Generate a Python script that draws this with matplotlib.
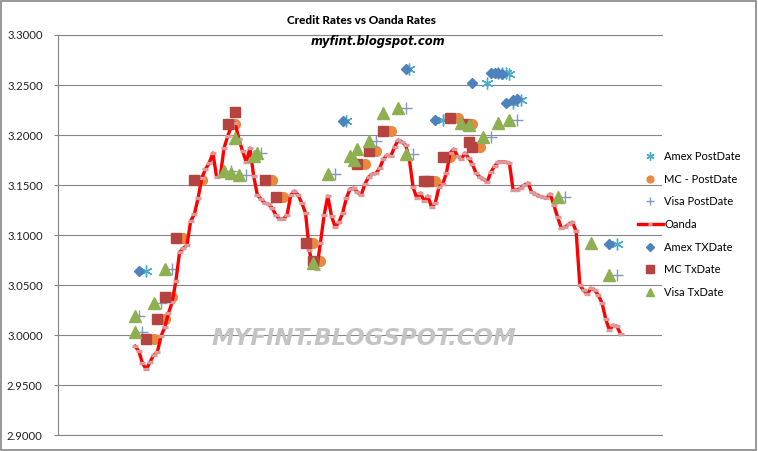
import matplotlib

matplotlib.use("Agg")
import matplotlib.pyplot as plt
from matplotlib.patches import Rectangle

# Oanda daily rate (day index from first date on chart)
oanda_day = list(range(132))
oanda_rate = [
    2.989, 2.984, 2.972, 2.966, 2.973, 2.980, 2.983, 2.999, 3.008, 3.022,
    3.033, 3.054, 3.083, 3.087, 3.090, 3.114, 3.121, 3.137, 3.157, 3.166,
    3.172, 3.182, 3.158, 3.159, 3.187, 3.199, 3.209, 3.212, 3.196, 3.184,
    3.173, 3.187, 3.159, 3.140, 3.136, 3.132, 3.131, 3.127, 3.120, 3.116,
    3.116, 3.120, 3.140, 3.144, 3.140, 3.132, 3.122, 3.085, 3.068, 3.066,
    3.092, 3.120, 3.139, 3.119, 3.108, 3.113, 3.122, 3.137, 3.146, 3.147,
    3.143, 3.140, 3.151, 3.158, 3.161, 3.162, 3.167, 3.176, 3.180, 3.179,
    3.188, 3.195, 3.193, 3.190, 3.176, 3.148, 3.137, 3.142, 3.134, 3.139,
    3.128, 3.132, 3.148, 3.151, 3.162, 3.182, 3.186, 3.179, 3.176, 3.182,
    3.177, 3.171, 3.162, 3.158, 3.156, 3.153, 3.163, 3.169, 3.173, 3.173,
    3.173, 3.172, 3.145, 3.145, 3.147, 3.150, 3.152, 3.143, 3.141, 3.139,
    3.138, 3.137, 3.141, 3.130, 3.118, 3.107, 3.108, 3.111, 3.113, 3.104,
    3.050, 3.045, 3.041, 3.047, 3.045, 3.040, 3.032, 3.016, 3.005, 3.010,
    3.009, 3.001,
]

amex_tx_day = [1, 56, 73, 81, 91, 96, 97, 98, 99, 100, 102, 103, 128]
amex_tx_rate = [3.064, 3.214, 3.266, 3.215, 3.252, 3.262, 3.262, 3.262, 3.261,
                3.232, 3.235, 3.236, 3.091]
amex_post_day = [3, 57, 74, 83, 95, 98, 99, 100, 101, 102, 104, 130]
amex_post_rate = [3.064, 3.214, 3.266, 3.215, 3.252, 3.262, 3.262, 3.262, 3.261,
                  3.232, 3.235, 3.091]

mc_tx_day = [3, 6, 8, 11, 16, 25, 27, 35, 38, 46, 48, 60, 63, 67, 78, 79, 83,
             85, 89, 90, 91]
mc_tx_rate = [2.996, 3.016, 3.038, 3.097, 3.155, 3.211, 3.223, 3.155, 3.138,
              3.092, 3.074, 3.171, 3.184, 3.204, 3.154, 3.154, 3.178, 3.217,
              3.211, 3.193, 3.188]
mc_post_day = [5, 8, 10, 13, 18, 27, 37, 40, 48, 50, 62, 65, 69, 81, 85, 87,
               91, 93]
mc_post_rate = [2.996, 3.016, 3.038, 3.097, 3.155, 3.211, 3.155, 3.138, 3.092,
                3.074, 3.171, 3.184, 3.204, 3.154, 3.178, 3.217, 3.211, 3.188]

visa_tx_day = [0, 0, 5, 8, 24, 26, 28, 27, 32, 33, 48, 52, 58, 59, 60, 63, 67,
               71, 73, 88, 90, 94, 98, 101, 114, 123, 128]
visa_tx_rate = [3.019, 3.003, 3.032, 3.066, 3.164, 3.162, 3.160, 3.197, 3.179,
                3.182, 3.072, 3.161, 3.179, 3.175, 3.186, 3.194, 3.222, 3.227,
                3.181, 3.212, 3.210, 3.198, 3.212, 3.215, 3.138, 3.092, 3.060]
visa_post_day = [1, 2, 7, 10, 26, 30, 34, 54, 65, 73, 75, 96, 103, 116, 130]
visa_post_rate = [3.019, 3.003, 3.032, 3.066, 3.164, 3.160, 3.182, 3.161, 3.194,
                  3.227, 3.181, 3.198, 3.215, 3.138, 3.060]

y_ticks = [2.90, 2.95, 3.00, 3.05, 3.10, 3.15, 3.20, 3.25, 3.30]

GRID = "#868686"
C_AMEX = "#4F81BD"
C_AMEX_POST = "#4BACC6"
C_MC = "#B5433F"
C_MC_POST = "#E8893E"
C_VISA = "#8FB050"
C_VISA_POST = "#8497C4"
C_OANDA = "#FF0000"
C_OANDA_MK = "#D9989A"

plt.rcParams["font.family"] = ["Lato", "DejaVu Sans"]

fig = plt.figure(figsize=(7.58, 4.51), dpi=100)
ax = fig.add_axes([0.0765, 0.0348, 0.7965, 0.8876])

asterisk = (6, 2, 0)
ax.plot(amex_post_day, amex_post_rate, ls="none", marker=asterisk, ms=8.5,
        mec=C_AMEX_POST, mew=1.0, zorder=3, label="Amex PostDate")
ax.plot(mc_post_day, mc_post_rate, ls="none", marker="o", ms=7,
        mfc=C_MC_POST, mec=C_MC_POST, zorder=3, label="MC - PostDate")
ax.plot(visa_post_day, visa_post_rate, ls="none", marker="+", ms=8.5,
        mec=C_VISA_POST, mew=1.0, zorder=3, label="Visa PostDate")
ax.plot(oanda_day, oanda_rate, color=C_OANDA, lw=2.4, marker="_", ms=5,
        mec=C_OANDA_MK, mew=2.4, zorder=4, label="Oanda")
ax.plot(amex_tx_day, amex_tx_rate, ls="none", marker="D", ms=5.6,
        mfc=C_AMEX, mec=C_AMEX, zorder=5, label="Amex TXDate")
ax.plot(mc_tx_day, mc_tx_rate, ls="none", marker="s", ms=7.6,
        mfc=C_MC, mec=C_MC, zorder=5, label="MC TxDate")
ax.plot(visa_tx_day, visa_tx_rate, ls="none", marker="^", ms=8,
        mfc=C_VISA, mec=C_VISA, zorder=5, label="Visa TxDate")

ax.set_xlim(-20.8, 142.1)
ax.set_ylim(2.9, 3.3)
ax.set_yticks(y_ticks)
ax.set_yticklabels([f"{v:.4f}" for v in y_ticks])
ax.set_xticks([])
ax.tick_params(axis="y", direction="out", length=3, width=0.8, color=GRID,
               labelsize=8.2, labelcolor="#222222", pad=8)
ax.grid(True, axis="y", color=GRID, lw=0.8, zorder=0)
ax.set_axisbelow(True)
for side in ["left", "top", "bottom"]:
    ax.spines[side].set_color(GRID)
    ax.spines[side].set_linewidth(0.8)
ax.spines["right"].set_visible(False)
ax.patch.set_alpha(0)

fig.text(0.477, 0.955, "Credit Rates vs Oanda Rates", ha="center", va="center",
         fontsize=8.5, fontweight="black")
fig.text(0.499, 0.909, "myfint.blogspot.com", ha="center", va="center",
         fontsize=8.3, fontweight="bold", style="italic", family="DejaVu Sans")
ax.text(0.507, 0.243, "MYFINT.BLOGSPOT.COM", transform=ax.transAxes,
        ha="center", va="center", fontsize=16.5, fontweight="bold",
        style="italic", color="#C4C4C4", family="DejaVu Sans", zorder=1)

handles, labels = ax.get_legend_handles_labels()
fig.legend(handles, labels, loc="upper left", bbox_to_anchor=(0.836, 0.675),
           frameon=False, fontsize=8, labelspacing=1.05, handlelength=2.2,
           handletextpad=0.15, borderaxespad=0, markerscale=0.7)

fig.add_artist(Rectangle((0.001, 0.002), 0.997, 0.996, transform=fig.transFigure,
                         fill=False, edgecolor=GRID, lw=1.2))

fig.savefig("out.png", dpi=100)
